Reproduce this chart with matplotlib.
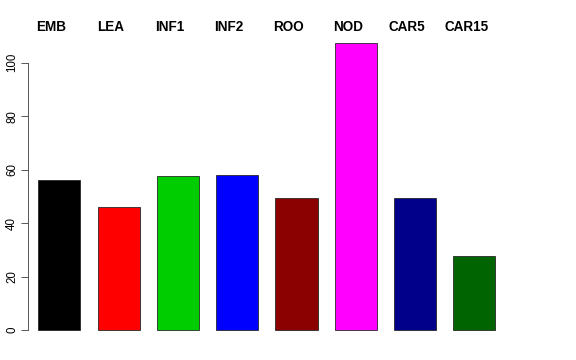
import matplotlib
matplotlib.use("Agg")
import matplotlib.pyplot as plt

names = ["EMB", "LEA", "INF1", "INF2", "ROO", "NOD", "CAR5", "CAR15"]
values = [56.3, 46.2, 57.8, 58.1, 49.6, 107.5, 49.6, 27.8]
colors = ["#000000", "#ff0000", "#00cd00", "#0000ff", "#8b0000",
          "#ff00ff", "#00008b", "#006400"]

plt.rcParams["font.family"] = ["Liberation Sans", "DejaVu Sans"]

W, H = 576, 360
fig = plt.figure(figsize=(W / 72, H / 72), dpi=72)
ax = fig.add_axes([28 / W, (H - 342) / H, (514 - 28) / W, (342 - 31) / H])

x = list(range(len(names)))
ax.bar(x, values, width=0.71, color=colors, edgecolor="#222222", linewidth=0.8)

ax.set_xlim(-0.528, 7.668)
ax.set_ylim(-4.41, 111.85)

# names sit a little left of the bar centres, above the plot
for i, name in enumerate(names):
    ax.text(i - 0.135, 113.3, name, ha="center", va="center", fontsize=13.5,
            fontweight="bold", clip_on=False)

for s in ["top", "right", "bottom"]:
    ax.spines[s].set_visible(False)
ax.spines["left"].set_bounds(0, 100)
ax.spines["left"].set_color("#333333")
ax.set_xticks([])
ax.set_yticks([0, 20, 40, 60, 80, 100])
ax.set_yticklabels(["0", "20", "40", "60", "80", "100"], rotation=90,
                   va="center", fontsize=11.5)
ax.tick_params(axis="y", length=7, color="#333333", pad=3)

fig.savefig("out.png", dpi=72)
